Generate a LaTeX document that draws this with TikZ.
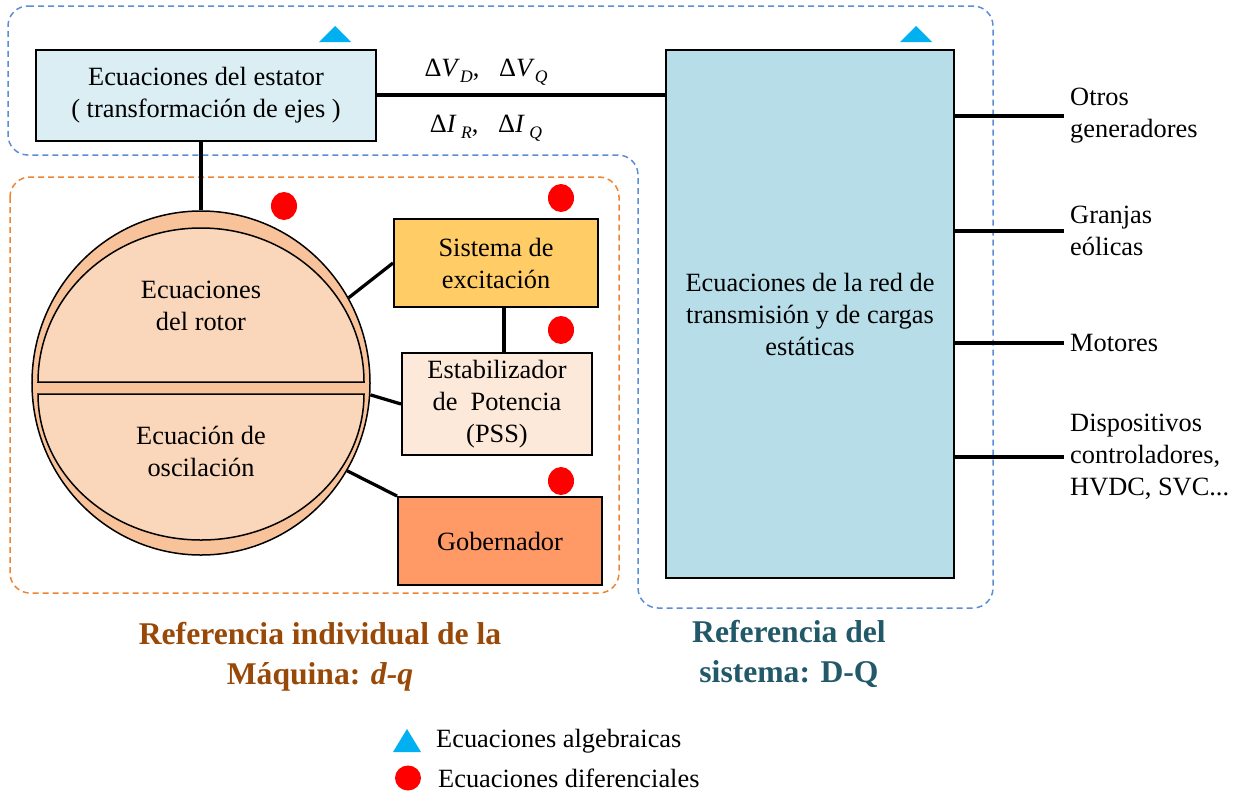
\documentclass[tikz,border=0pt]{standalone}
\usepackage{fontspec}
\setmainfont{Liberation Serif}
\usepackage{xcolor}
\usetikzlibrary{shapes.geometric, calc, positioning}

\definecolor{statorfill}{HTML}{DAEEF3}
\definecolor{redfill}{HTML}{B7DDE8}
\definecolor{excfill}{HTML}{FFCC66}
\definecolor{pssfill}{HTML}{FDE9D9}
\definecolor{govfill}{HTML}{FF9966}
\definecolor{bandfill}{HTML}{F8C39A}
\definecolor{rotorfill}{HTML}{FAD7BA}
\definecolor{algcol}{HTML}{00B0F0}
\definecolor{difcol}{HTML}{FF0000}
\definecolor{sysline}{HTML}{5B8ED6}
\definecolor{maqline}{HTML}{EE8433}
\definecolor{maqtext}{HTML}{984807}
\definecolor{systext}{HTML}{215968}

\newcommand{\subi}[1]{\raisebox{-0.45ex}{\fontsize{10}{10}\selectfont\textit{#1}}}

\begin{document}
\begin{tikzpicture}[x=0.2mm, y=-0.2mm,
        every node/.style={font=\rmfamily\fontsize{15}{18.2}\selectfont},
        bloque/.style={draw, line width=0.4mm, align=center, inner sep=0pt},
        conn/.style={line width=0.65mm},
        zona/.style={dash pattern=on 1.2mm off 0.8mm, line width=0.3mm, rounded corners=4mm},
        titulo/.style={font=\rmfamily\fontsize{18}{22.8}\selectfont\bfseries, align=center}]
    \useasboundingbox (0,0) rectangle (1243,793);

    % zonas de referencia
    \draw[zona, sysline] (8,6) -- (993,6) -- (993,608) -- (638,608) -- (638,155) -- (8,155) -- cycle;
    \draw[zona, maqline] (10,177) rectangle (619,593);

    \node[bloque, fill=statorfill, minimum width=67.8mm, minimum height=18.2mm] (estator) at (206,95) {Ecuaciones del estator\\( transformación de ejes )};
    \node[bloque, fill=redfill, minimum width=57.6mm, minimum height=105.6mm] (red) at (810,314) {Ecuaciones de la red de\\transmisión y de cargas\\estáticas};

    % rotor
    \node[draw, ellipse, line width=0.3mm, fill=bandfill, minimum width=67.6mm, minimum height=68.8mm, inner sep=0pt] (rotor) at (201,383) {};
    \draw[line width=0.3mm, fill=rotorfill] (38,382) arc[start angle=180, end angle=0, x radius=32.6mm, y radius=30.8mm] -- cycle;
    \draw[line width=0.3mm, fill=rotorfill] (38,394) arc[start angle=180, end angle=360, x radius=32.6mm, y radius=29.2mm] -- cycle;
    \node[align=center] (rotortxt) at (201,306) {Ecuaciones\\del rotor};
    \node[align=center] (osctxt) at (201,451) {Ecuación de\\oscilación};

    \node[bloque, fill=excfill, minimum width=40.8mm, minimum height=17.6mm] (exc) at (496,263) {Sistema de\\excitación};
    \node[bloque, fill=pssfill, minimum width=38mm, minimum height=20.4mm] (pss) at (497,404) {Estabilizador\\de\ \ Potencia\\(PSS)};
    \node[bloque, fill=govfill, minimum width=40.8mm, minimum height=17.6mm] (gob) at (500,541) {Gobernador};

    \draw[conn] (rotor.north |- estator.south) -- (rotor.north);
    \draw[conn] (rotor.30) -- (exc.west);
    \draw[conn] ($(exc.south)+(8,0)$) -- ($(pss.north)+(7,0)$);
    \draw[conn] (rotor.-4) -- (pss.west);
    \draw[conn] (rotor.-31) -- (gob.north west);
    \draw[conn] (estator.east) -- (estator.east -| red.west);

    \node (dv) at (486,72) {Δ\textit{V}\subi{D},\ \ \ Δ\textit{V}\subi{Q}};
    \node (di) at (486,128) {Δ\textit{I}\,\subi{R},\ \ \ Δ\textit{I}\,\subi{Q}};

    % otros elementos de la red
    \node[anchor=west, align=left] (otros) at (1064,116) {Otros\\generadores};
    \node[anchor=west, align=left] (granjas) at (1064,231) {Granjas\\eólicas};
    \node[anchor=west, align=left] (motores) at (1064,343) {Motores};
    \node[anchor=west, align=left] (disp) at (1064,457) {Dispositivos\\controladores,\\HVDC, SVC...};
    \foreach \n in {otros, granjas, motores, disp}
        \draw[conn] (red.east |- \n.west) -- (\n.west);

    % marcas
    \fill[algcol] (319,42) -- (351,42) -- (335,26) -- cycle;
    \fill[algcol] (900,42) -- (932,42) -- (916,26) -- cycle;
    \foreach \p in {(284,206), (561,198), (561,330), (561,481)}
        \fill[difcol] \p ellipse [x radius=2.6mm, y radius=2.8mm];

    \node[titulo, text=maqtext] (refmaq) at (320,657) {Referencia individual de la\\Máquina: \textit{d-q}};
    \node[titulo, text=systext] (refsis) at (789,654) {Referencia del\\sistema: D-Q};

    % leyenda
    \fill[algcol] (393,752) -- (421,752) -- (407,729) -- cycle;
    \fill[difcol] (408,778) ellipse [x radius=2.6mm, y radius=2.5mm];
    \node[anchor=west] (leyalg) at (430,741) {Ecuaciones algebraicas};
    \node[anchor=west] (leydif) at (432,778) {Ecuaciones diferenciales};
\end{tikzpicture}
\end{document}
